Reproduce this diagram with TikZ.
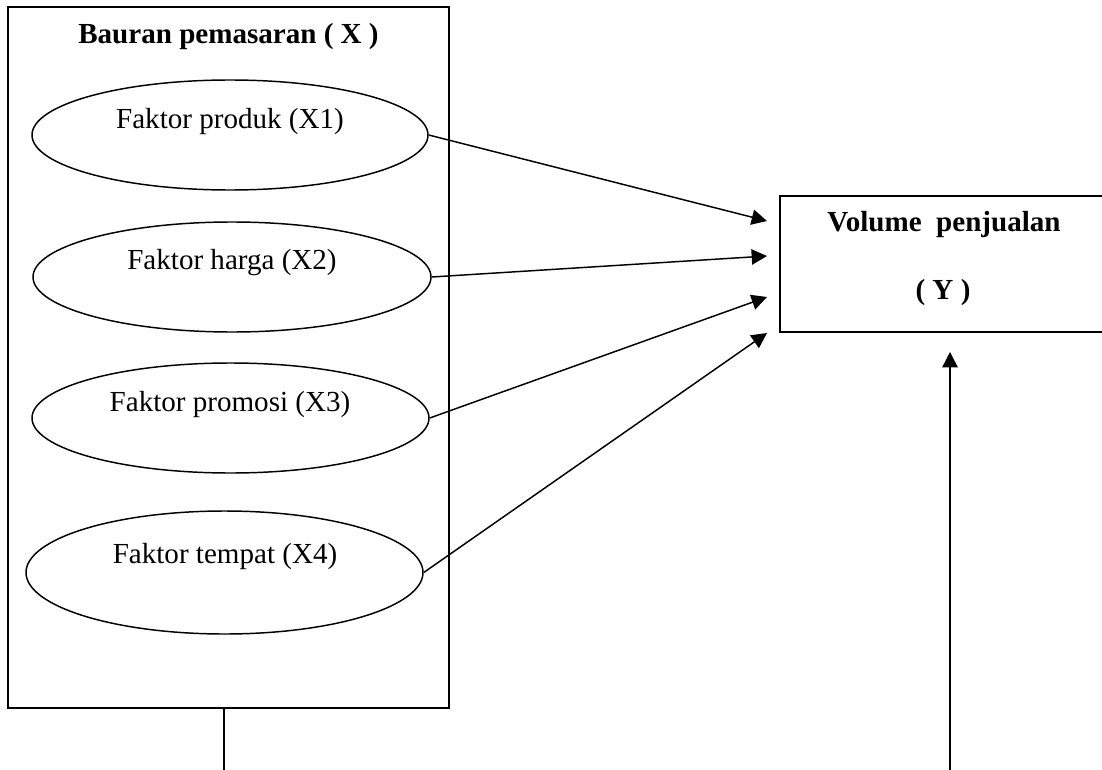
\documentclass[tikz,border=0pt]{standalone}
\usepackage{fontspec}
\setmainfont{Liberation Serif}
\usetikzlibrary{arrows.meta,shapes.geometric}
\begin{document}
\begin{tikzpicture}[x=0.75pt,y=-0.75pt,
  every node/.style={font=\fontsize{21.8}{26}\selectfont},
  frame/.style={draw,line width=1.1pt},
  oval/.style={draw,ellipse,line width=1.1pt,inner sep=0pt},
  lbl/.style={inner sep=0pt,anchor=center},
  conn/.style={line width=1.1pt,-{Triangle[length=11.5pt,width=11.5pt]}},
  plain/.style={line width=1.1pt}]
\useasboundingbox (0,0) rectangle (1102,770);
\clip (0,0) rectangle (1102,770);
% left box
\node[frame,minimum width=441*0.75pt,minimum height=701*0.75pt,inner sep=0pt] (bx) at (228.5,357.5) {};
\node[lbl,font=\fontsize{21.8}{26}\selectfont\bfseries] (tx) at (228.5,37) {Bauran pemasaran ( X )};
% ellipses
\node[oval,minimum width=396*0.75pt,minimum height=110*0.75pt] (e1) at (230,135) {};
\node[lbl] (l1) at (230,122) {Faktor produk (X1)};
\node[oval,minimum width=398*0.75pt,minimum height=110*0.75pt] (e2) at (232,277) {};
\node[lbl] (l2) at (232,263) {Faktor harga (X2)};
\node[oval,minimum width=397*0.75pt,minimum height=110*0.75pt] (e3) at (230.5,418) {};
\node[lbl] (l3) at (230,405) {Faktor promosi (X3)};
\node[oval,minimum width=397*0.75pt,minimum height=123*0.75pt] (e4) at (224.5,572.5) {};
\node[lbl] (l4) at (225,557) {Faktor tempat (X4)};
% right box
\node[frame,minimum width=340*0.75pt,minimum height=136*0.75pt,inner sep=0pt] (by) at (950,264) {};
\node[lbl,font=\fontsize{21.8}{26}\selectfont\bfseries] (ty1) at (944,225) {Volume\ \ penjualan};
\node[lbl,font=\fontsize{21.8}{26}\selectfont\bfseries] (ty2) at (943,293) {( Y )};
% arrow tips
\coordinate (t1) at (767,221);
\coordinate (t2) at (767,256);
\coordinate (t3) at (767,297);
\coordinate (t4) at (767,333);
\draw[conn] (e1.east) -- (t1);
\draw[conn] (e2.east) -- (t2);
\draw[conn] (e3.east) -- (t3);
\draw[conn] (e4.east) -- (t4);
% bottom lines
\coordinate (bl) at (224,772);
\draw[plain] (bx.south -| bl) -- (bl);
\coordinate (br) at (950,772);
\coordinate (yt) at (950,352);
\draw[conn] (br) -- (yt);
\end{tikzpicture}
\end{document}
